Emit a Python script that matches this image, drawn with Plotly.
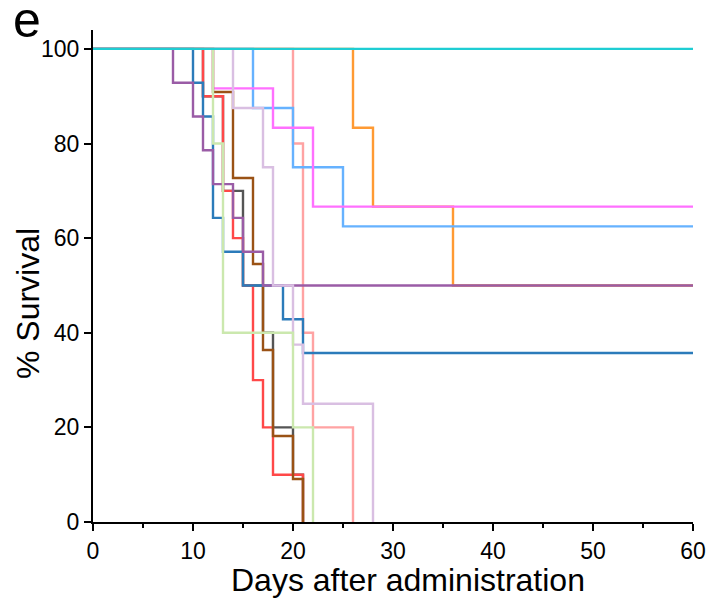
import plotly.graph_objects as go

# Kaplan-Meier style survival steps: event days and % survival after each event
cyan_days = [0, 60]
cyan_surv = [100, 100]

orange_days = [0, 26, 28, 36, 60]
orange_surv = [100, 83.33, 66.67, 50, 50]

lightblue_days = [0, 16, 20, 25, 60]
lightblue_surv = [100, 87.5, 75, 62.5, 62.5]

pink_days = [0, 12, 18, 22, 60]
pink_surv = [100, 91.67, 83.33, 66.67, 66.67]

salmon_days = [0, 20, 21, 22, 26]
salmon_surv = [100, 80, 40, 20, 0]

lavender_days = [0, 14, 17, 18, 20, 21, 28]
lavender_surv = [100, 87.5, 75, 50, 37.5, 25, 0]

purple_days = [0, 8, 10, 11, 12, 14, 15, 17, 60]
purple_surv = [100, 92.86, 85.71, 78.57, 71.43, 64.29, 57.14, 50, 50]

blue_days = [0, 10, 11, 12, 13, 15, 19, 21, 60]
blue_surv = [100, 92.86, 85.71, 64.29, 57.14, 50, 42.86, 35.71, 35.71]

red_days = [0, 11, 13, 14, 15, 16, 17, 18, 21]
red_surv = [100, 90, 70, 60, 50, 30, 20, 10, 0]

gray_days = [0, 11, 13, 15, 17, 18, 20, 21]
gray_surv = [100, 90, 70, 50, 40, 20, 10, 0]

brown_days = [0, 12, 14, 16, 17, 18, 20, 21]
brown_surv = [100, 90.91, 72.73, 54.55, 36.36, 18.18, 9.09, 0]

green_days = [0, 12, 13, 20, 22]
green_surv = [100, 80, 40, 20, 0]

x_ticks = [0, 10, 20, 30, 40, 50, 60]
y_ticks = [0, 20, 40, 60, 80, 100]

# drawing order: first listed is at the bottom
series = [
    ("orange", orange_days, orange_surv, "#FF9A33"),
    ("gray", gray_days, gray_surv, "#555555"),
    ("red", red_days, red_surv, "#FF4848"),
    ("salmon", salmon_days, salmon_surv, "#FFA3A3"),
    ("lightblue", lightblue_days, lightblue_surv, "#66B2FF"),
    ("pink", pink_days, pink_surv, "#FF70FF"),
    ("brown", brown_days, brown_surv, "#9A5215"),
    ("blue", blue_days, blue_surv, "#2B7BBA"),
    ("purple", purple_days, purple_surv, "#9A5CA6"),
    ("lavender", lavender_days, lavender_surv, "#D9BFE2"),
    ("green", green_days, green_surv, "#CBE8AE"),
    ("cyan", cyan_days, cyan_surv, "#1FCDD3"),
]

fig = go.Figure()
for name, d, s, c in series:
    fig.add_trace(go.Scatter(
        x=d, y=s, name=name, mode="lines",
        line=dict(color=c, width=2.4, shape="hv"),
        showlegend=False,
    ))

font_family = "Arial, Liberation Sans, sans-serif"
axis_common = dict(
    ticks="outside", ticklen=7, tickwidth=2, tickcolor="black",
    showline=True, linecolor="black", linewidth=2,
    showgrid=False, zeroline=False, tickfont=dict(size=23), automargin=False,
)

fig.update_layout(
    width=709, height=605,
    margin=dict(l=93, r=16, t=30, b=83),
    paper_bgcolor="white", plot_bgcolor="white",
    font=dict(family=font_family, color="black"),
    xaxis=dict(
        range=[0, 60], tickvals=x_ticks,
        minor=dict(dtick=5, ticks="outside", ticklen=4, tickwidth=2, tickcolor="black"),
        **axis_common,
    ),
    yaxis=dict(range=[0, 104], tickvals=y_ticks, **axis_common),
    annotations=[
        dict(  # panel letter
            text="e", x=0, y=1, xref="paper", yref="paper",
            xanchor="left", yanchor="top", showarrow=False,
            font=dict(size=50, family=font_family, color="black"),
            xshift=-93 + 11, yshift=30 + 10,
        ),
        dict(  # x axis title
            text="Days after administration", x=0.525, y=0, xref="paper", yref="paper",
            xanchor="center", yanchor="middle", showarrow=False,
            font=dict(size=32, family=font_family, color="black"),
            yshift=-58,
        ),
        dict(  # y axis title
            text="% Survival", x=0, y=0.443, xref="paper", yref="paper",
            xanchor="center", yanchor="middle", showarrow=False, textangle=-90,
            font=dict(size=32, family=font_family, color="black"),
            xshift=-65,
        ),
    ],
)

fig.write_html("out.html")
